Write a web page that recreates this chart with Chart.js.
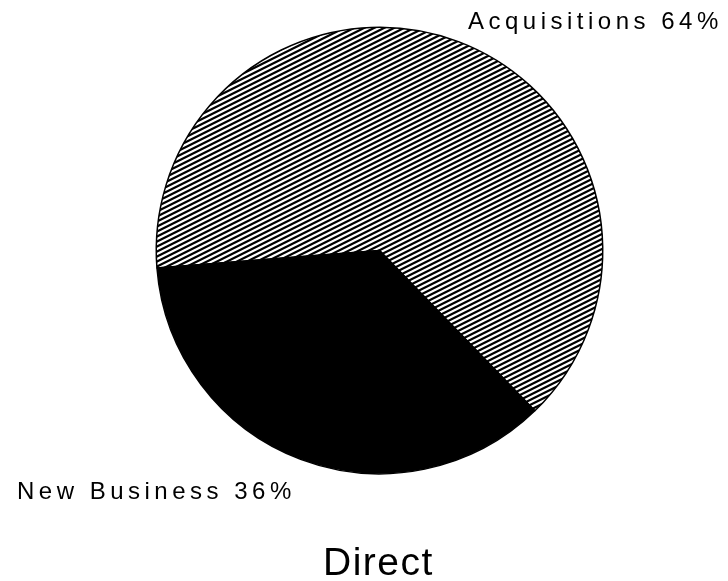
<!DOCTYPE html>
<html>
<head>
<meta charset="utf-8">
<script src="https://cdn.jsdelivr.net/npm/chart.js@4"></script>
<style>
    html, body { margin: 0; padding: 0; background: #fff; }
    canvas { display: block; }
</style>
</head>
<body>
<canvas id="pieChart" width="728" height="581"></canvas>
<script>
// Data - START
const CATEGORIES = ['Acquisitions', 'New Business'];
const SHARES = [64, 36];
const CHART_TITLE = 'Direct';
// Data - END

// diagonal hatch tile, lines rising to the right
let makeHatch = () => {
    let tile = document.createElement('canvas');
    tile.width = 10;
    tile.height = 5;
    let c = tile.getContext('2d');
    c.fillStyle = '#fff';
    c.fillRect(0, 0, 10, 5);
    c.strokeStyle = '#000';
    c.lineWidth = 2.2;
    for (let k = -1; k <= 1; k++) {
        c.beginPath();
        c.moveTo(-10, 10 + k * 5);
        c.lineTo(20, -5 + k * 5);
        c.stroke();
    }
    return c.createPattern(tile, 'repeat');
};

let labelsPlugin = {
    id: 'sliceLabels',
    afterDraw(chart) {
        let ctx = chart.ctx;
        ctx.save();
        ctx.fillStyle = '#000';
        ctx.textBaseline = 'alphabetic';
        ctx.textAlign = 'left';
        ctx.font = '24px "Liberation Sans", Arial, sans-serif';
        ctx.letterSpacing = '4.5px';
        ctx.fillText(CATEGORIES[0] + ' ' + SHARES[0] + '%', 468, 29);
        ctx.fillText(CATEGORIES[1] + ' ' + SHARES[1] + '%', 17, 499);
        ctx.font = '39px "Liberation Sans", Arial, sans-serif';
        ctx.letterSpacing = '1.5px';
        ctx.fillText(CHART_TITLE, 323, 575);
        ctx.restore();
    }
};

let ctx = document.getElementById('pieChart');
let pieChart = new Chart(ctx, {
    type: 'pie',
    data: {
        labels: CATEGORIES,
        datasets: [{
            data: SHARES,
            backgroundColor: [makeHatch(), '#000'],
            borderColor: '#000',
            borderWidth: 1.5
        }]
    },
    options: {
        responsive: false,
        animation: false,
        rotation: 265.5,
        layout: {
            padding: { left: 155.5, right: 124.5, top: 26.5, bottom: 106.5 }
        },
        plugins: {
            legend: { display: false },
            tooltip: { enabled: false },
            title: { display: false }
        }
    },
    plugins: [labelsPlugin]
});
</script>
</body>
</html>
